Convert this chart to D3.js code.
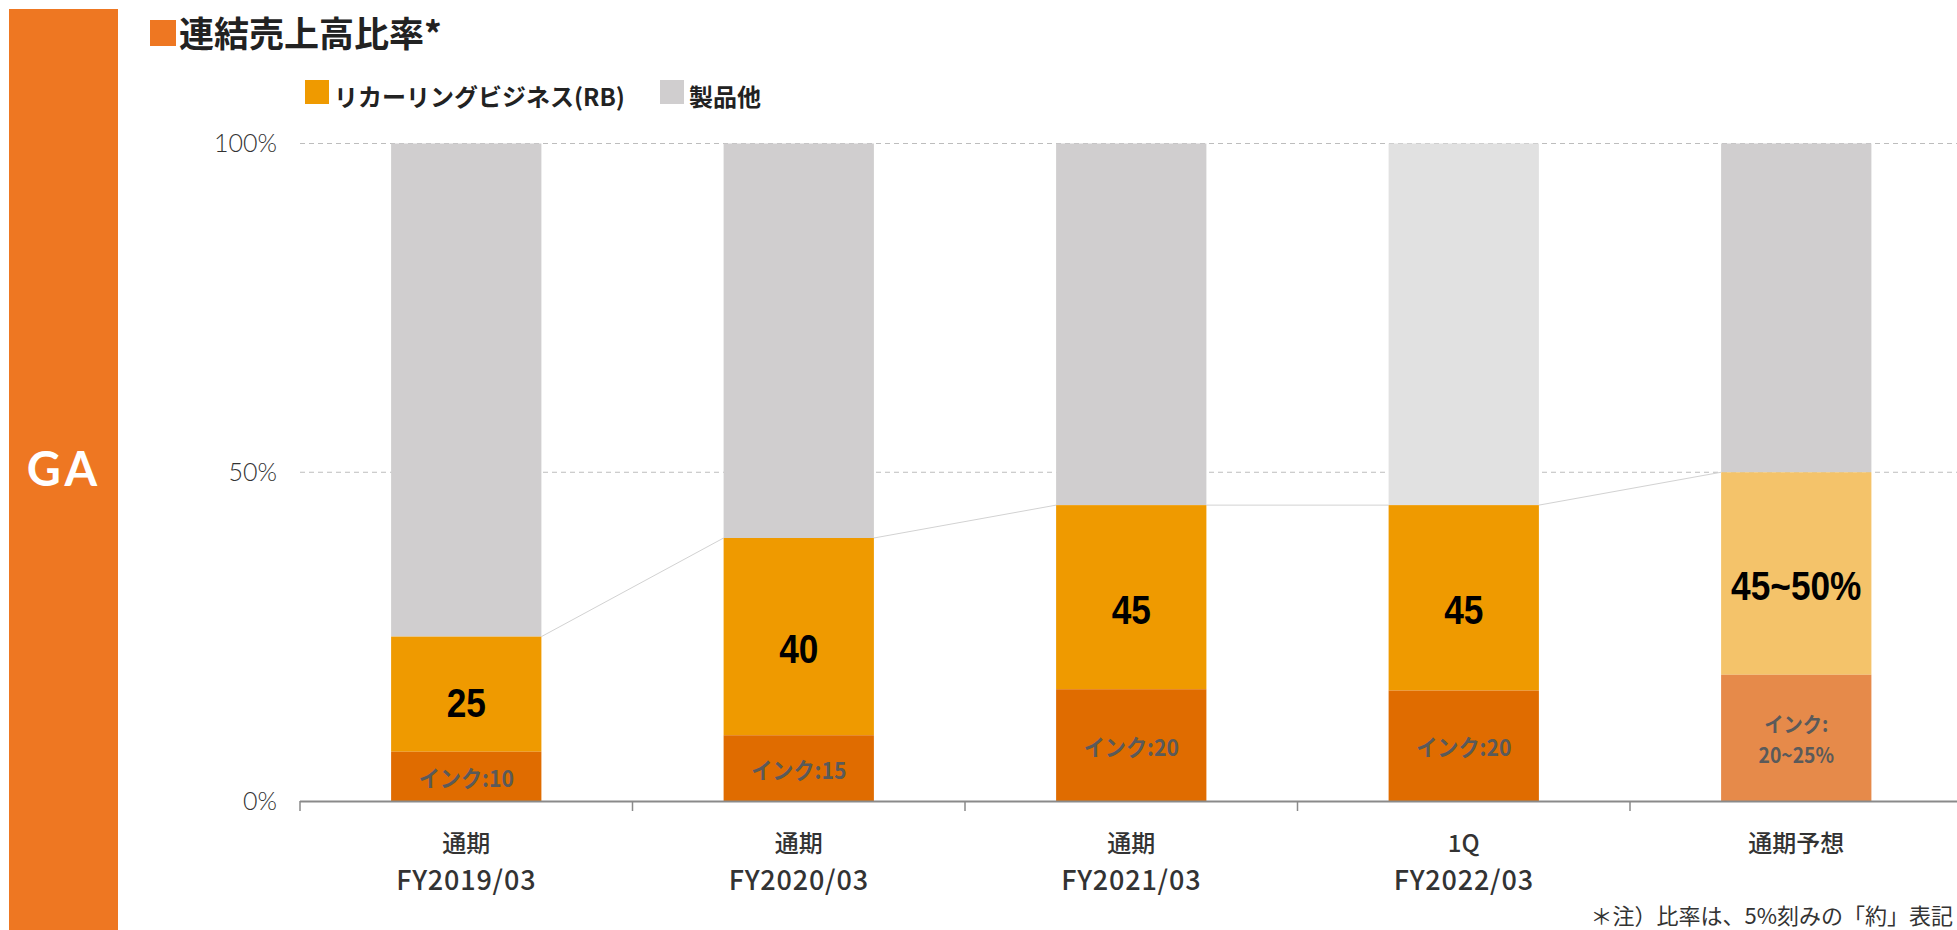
<!DOCTYPE html>
<html>
<head>
<meta charset="utf-8">
<script src="https://cdn.jsdelivr.net/npm/d3@7/dist/d3.min.js"></script>
<style>
  html, body { margin: 0; padding: 0; background: #fff; }
  svg { display: block; }
</style>
</head>
<body>
<svg id="chart" width="1957" height="930"></svg>
<script>
// ---- data ----
const categories = ["FY2019/03", "FY2020/03", "FY2021/03", "1Q FY2022/03", "通期予想"];
const labelTop = ["通期", "通期", "通期", "1Q", "通期予想"];
const labelBottom = ["FY2019/03", "FY2020/03", "FY2021/03", "FY2022/03", ""];
const rbShare = [25, 40, 45, 45, 50];              // top of リカーリングビジネス segment (%)
const inkShare = [7.5, 10, 17, 16.8, 19.2];        // drawn height of インク segment (%)
const rbLabels = ["25", "40", "45", "45", "45~50%"];
const inkLabels = [["インク:10"], ["インク:15"], ["インク:20"], ["インク:20"], ["インク:", "20~25%"]];
const yTicks = [0, 50, 100];
const legendItems = ["リカーリングビジネス(RB)", "製品他"];

// ---- styles ----
const C = {
  band: "#EE7722", rb: "#EF9A00", ink: "#E06C00", other: "#D0CECF",
  otherLight: "#E1E1E1", rbForecast: "#F4C36A", inkForecast: "#E68A4A"
};
const JP = "'Noto Sans CJK JP', 'Noto Sans', sans-serif";
const NUM = "'Liberation Sans', Arial, sans-serif";

const svg = d3.select("#chart");
const W = 1957, H = 930;
const x0 = 300, x1 = 1962.5;

const x = d3.scaleBand().domain(categories).range([x0, x1]).paddingInner(0).paddingOuter(0);
const y = d3.scaleLinear().domain([0, 100]).range([801, 143.5]);
const barW = x.step() * 0.452;
const cx = d => x(d) + x.step() / 2;

// left band
svg.append("rect").attr("x", 9).attr("y", 9).attr("width", 109).attr("height", H - 9).attr("fill", C.band);
svg.append("text").attr("x", 64).attr("y", 468).attr("text-anchor", "middle")
  .attr("dominant-baseline", "central")
  .attr("font-family", "Lato, 'Open Sans', sans-serif").attr("font-weight", 700)
  .attr("font-size", 47).attr("letter-spacing", 4).attr("fill", "#fff").text("GA");

// title
svg.append("rect").attr("x", 150).attr("y", 20).attr("width", 26).attr("height", 26).attr("fill", C.band);
svg.append("text").attr("x", 179).attr("y", 47)
  .attr("font-family", JP).attr("font-weight", 700).attr("font-size", 35).attr("fill", "#222")
  .text("連結売上高比率*");

// legend
const legendX = [305, 660];
const legendC = [C.rb, C.other];
legendItems.forEach((t, i) => {
  svg.append("rect").attr("x", legendX[i]).attr("y", 80).attr("width", 24).attr("height", 24).attr("fill", legendC[i]);
  svg.append("text").attr("x", legendX[i] + 29).attr("y", 95).attr("dominant-baseline", "central")
    .attr("font-family", JP).attr("font-weight", 700).attr("font-size", 24).attr("fill", "#222").text(t);
});

// gridlines
svg.append("g").selectAll("line").data(yTicks.filter(d => d > 0)).join("line")
  .attr("x1", x0).attr("x2", W).attr("y1", d => y(d)).attr("y2", d => y(d))
  .attr("stroke", "#BDBDBD").attr("stroke-width", 1).attr("stroke-dasharray", "5,4");

// y axis labels
const yAxis = d3.axisLeft(y).tickValues(yTicks).tickFormat(d => d + "%").tickSize(0).tickPadding(23);
const ya = svg.append("g").attr("transform", `translate(${x0},0)`).call(yAxis);
ya.select(".domain").remove();
ya.selectAll("text").attr("font-family", "Lato, 'Open Sans', sans-serif").attr("font-weight", 300)
  .attr("font-size", 25).attr("fill", "#333");

// connectors
const conn = d3.range(categories.length - 1).map(i => [
  [cx(categories[i]) + barW / 2, y(rbShare[i])],
  [cx(categories[i + 1]) - barW / 2, y(rbShare[i + 1])]
]);
svg.append("g").selectAll("line").data(conn).join("line")
  .attr("x1", d => d[0][0]).attr("y1", d => d[0][1]).attr("x2", d => d[1][0]).attr("y2", d => d[1][1])
  .attr("stroke", "#D2D2D2").attr("stroke-width", 1);

// bars
const bars = svg.append("g");
categories.forEach((c, i) => {
  const left = cx(c) - barW / 2;
  const forecast = i === 4;
  const partial = i === 3;
  bars.append("rect").attr("x", left).attr("width", barW)
    .attr("y", y(100)).attr("height", y(rbShare[i]) - y(100))
    .attr("fill", partial ? C.otherLight : C.other);
  bars.append("rect").attr("x", left).attr("width", barW)
    .attr("y", y(rbShare[i])).attr("height", y(inkShare[i]) - y(rbShare[i]))
    .attr("fill", forecast ? C.rbForecast : C.rb);
  bars.append("rect").attr("x", left).attr("width", barW)
    .attr("y", y(inkShare[i])).attr("height", y(0) - y(inkShare[i]))
    .attr("fill", forecast ? C.inkForecast : C.ink);

  // RB label (condensed bold)
  const segH = y(inkShare[i]) - y(rbShare[i]);
  const midRB = (y(rbShare[i]) + y(inkShare[i])) / 2 + Math.min(12, segH * 0.07);
  bars.append("text")
    .attr("transform", `translate(${cx(c)},${midRB}) scale(0.86,1)`)
    .attr("text-anchor", "middle").attr("dominant-baseline", "central")
    .attr("font-family", NUM).attr("font-weight", 700).attr("font-size", 41).attr("fill", "#000")
    .text(rbLabels[i]);

  // ink label (one text element, lines as tspans)
  const lines = inkLabels[i];
  const midInk = (y(inkShare[i]) + y(0)) / 2;
  const lh = 31;
  const fs = lines.length > 1 ? 21 : 23;
  const t = bars.append("text")
    .attr("transform", `translate(${cx(c)},${midInk - (lines.length - 1) / 2 * lh}) scale(0.92,1)`)
    .attr("text-anchor", "middle").attr("dominant-baseline", "central")
    .attr("font-family", JP).attr("font-weight", 700).attr("font-size", fs).attr("fill", "#5A5A5A");
  lines.forEach((s, j) => {
    t.append("tspan").attr("x", 0).attr("dy", j === 0 ? 0 : lh).text(s);
  });
});

// x axis line and ticks
const xa = svg.append("g");
xa.append("line").attr("x1", x0).attr("x2", W).attr("y1", y(0) + 0.5).attr("y2", y(0) + 0.5)
  .attr("stroke", "#8A8A8A").attr("stroke-width", 2);
xa.selectAll("line.tick").data(categories).join("line").attr("class", "tick")
  .attr("x1", d => x(d)).attr("x2", d => x(d)).attr("y1", y(0)).attr("y2", y(0) + 10)
  .attr("stroke", "#8A8A8A").attr("stroke-width", 1.5);

// category labels
categories.forEach((c, i) => {
  xa.append("text").attr("x", cx(c)).attr("y", 841).attr("text-anchor", "middle")
    .attr("dominant-baseline", "central")
    .attr("font-family", JP).attr("font-weight", 500).attr("font-size", 24).attr("fill", "#333")
    .text(labelTop[i]);
  if (labelBottom[i]) {
    xa.append("text").attr("x", cx(c)).attr("y", 878).attr("text-anchor", "middle")
      .attr("dominant-baseline", "central")
      .attr("font-family", JP).attr("font-weight", 500).attr("font-size", 27).attr("letter-spacing", 0.8)
      .attr("fill", "#333")
      .text(labelBottom[i]);
  }
});

// footnote
svg.append("text").attr("x", 1953).attr("y", 914).attr("text-anchor", "end")
  .attr("dominant-baseline", "central")
  .attr("font-family", JP).attr("font-weight", 400).attr("font-size", 22).attr("fill", "#333")
  .text("＊注）比率は、5%刻みの「約」表記");
</script>
</body>
</html>
